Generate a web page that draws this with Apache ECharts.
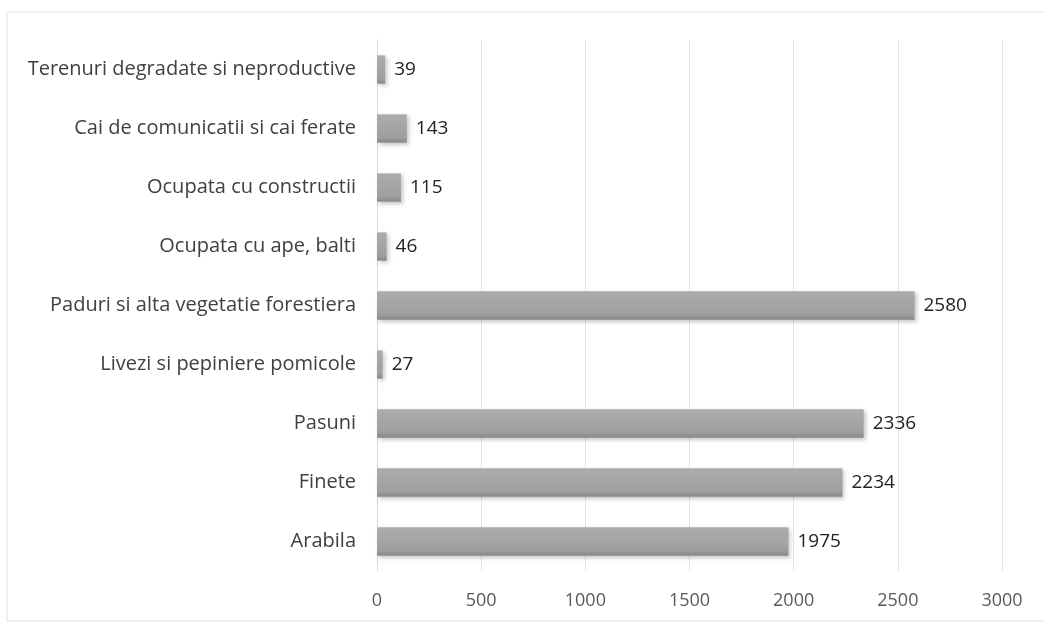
<!DOCTYPE html>
<html>
<head>
<meta charset="utf-8">
<script src="https://cdn.jsdelivr.net/npm/echarts@6/dist/echarts.min.js"></script>
<style>
  html, body { margin: 0; padding: 0; background: #fff; }
  #chart { width: 1045px; height: 624px; }
</style>
</head>
<body>
<div id="chart"></div>
<script>
// categories bottom -> top (ECharts category y axis starts at bottom)
const categories = [
  'Arabila',
  'Finete',
  'Pasuni',
  'Livezi si pepiniere pomicole',
  'Paduri si alta vegetatie forestiera',
  'Ocupata cu ape, balti',
  'Ocupata cu constructii',
  'Cai de comunicatii si cai ferate',
  'Terenuri degradate si neproductive',
]
const values = [1975, 2234, 2336, 27, 2580, 46, 115, 143, 39]
const xTicks = [0, 500, 1000, 1500, 2000, 2500, 3000]

const chart = echarts.init(document.getElementById('chart'))

chart.setOption({
  animation: false,
  textStyle: { fontFamily: 'Open Sans' },
  grid: { left: 377, right: 43, top: 40, bottom: 53 },
  // faint frame of the scanned chart
  graphic: [
    {
      type: 'rect',
      shape: { x: 7, y: 12, width: 1045, height: 609 },
      style: { fill: 'none', stroke: '#ededed', lineWidth: 1.5 },
      silent: true,
    },
  ],
  xAxis: {
    type: 'value',
    min: xTicks[0],
    max: xTicks[xTicks.length - 1],
    interval: 500,
    axisLine: { show: false },
    axisTick: { show: false },
    splitLine: { lineStyle: { color: '#e4e4e4', width: 1 } },
    axisLabel: {
      color: '#595959',
      fontSize: 18,
      margin: 21,
      formatter: (v) => String(v),
    },
  },
  yAxis: {
    type: 'category',
    data: categories,
    axisLine: { show: true, lineStyle: { color: '#d8d8d8' } },
    axisTick: { show: false },
    axisLabel: { color: '#404040', fontSize: 20, margin: 21 },
  },
  series: [
    {
      type: 'bar',
      data: values,
      barWidth: '48%',
      itemStyle: {
        color: new echarts.graphic.LinearGradient(0, 0, 0, 1, [
          { offset: 0, color: '#acacac' },
          { offset: 0.8, color: '#9f9f9f' },
          { offset: 1, color: '#888888' },
        ]),
        shadowColor: 'rgba(0,0,0,0.22)',
        shadowBlur: 4,
        shadowOffsetX: 2,
        shadowOffsetY: 2,
      },
      label: {
        show: true,
        position: 'right',
        distance: 9,
        color: '#222',
        fontSize: 19,
      },
    },
  ],
})
</script>
</body>
</html>
